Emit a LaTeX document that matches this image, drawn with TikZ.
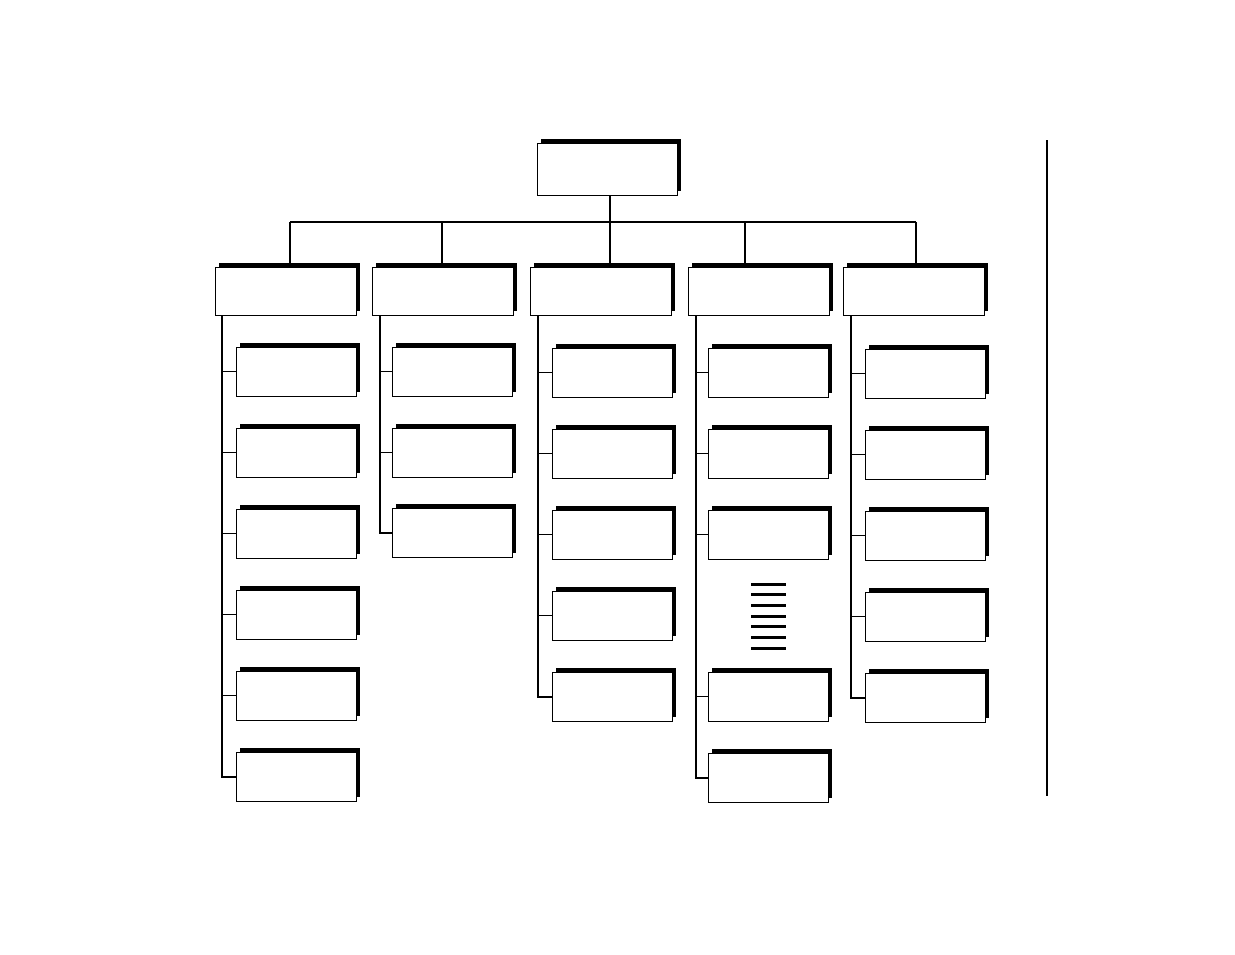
\documentclass[tikz,border=0pt]{standalone}
\usetikzlibrary{shadows}
\begin{document}
\begin{tikzpicture}[x=1pt,y=-1pt,
  box/.style={draw, line width=0.9pt, fill=white, inner sep=0pt, anchor=north west,
    drop shadow={shadow xshift=4pt, shadow yshift=4.5pt, opacity=1, fill=black}},
  topbox/.style={box, minimum width=140pt, minimum height=52pt},
  headbox/.style={box, minimum width=141pt, minimum height=48pt},
  childbox/.style={box, minimum width=120pt, minimum height=49pt},
  bus/.style={line width=2pt},
  feed/.style={line width=1.3pt},
  twig/.style={line width=1pt},
  tick/.style={line width=3pt}]
\useasboundingbox (0,0) rectangle (1235,954);

% top
\node[topbox] (top) at (537,143) {};
% heads
\node[headbox] (a) at (215,267) {};
\node[headbox] (b) at (372,267) {};
\node[headbox] (c) at (530,267) {};
\node[headbox] (d) at (688,267) {};
\node[headbox] (e) at (843,267) {};

% children
\foreach \i/\t in {1/347,2/428,3/509,4/590,5/671,6/752}
  \node[childbox] (a\i) at (236,\t) {};
\foreach \i/\t in {1/347,2/428,3/508}
  \node[childbox] (b\i) at (392,\t) {};
\foreach \i/\t in {1/348,2/429,3/510,4/591,5/672}
  \node[childbox] (c\i) at (552,\t) {};
\foreach \i/\t in {1/348,2/429,3/510,4/672,5/753}
  \node[childbox] (d\i) at (708,\t) {};
\foreach \i/\t in {1/349,2/430,3/511,4/592,5/673}
  \node[childbox] (e\i) at (865,\t) {};

% bus and drops
\coordinate (dT) at (610,222);
\coordinate (dA) at (290,222);
\coordinate (dB) at (442,222);
\coordinate (dC) at (610,222);
\coordinate (dD) at (745,222);
\coordinate (dE) at (916,222);
\draw[feed] (dT) -- (dT |- top.south);
\draw[bus] (dA) -- (dE);
\foreach \n/\dd in {a/dA,b/dB,c/dC,d/dD,e/dE}
  \draw[bus] (\dd) -- (\dd |- \n.north);

% column spines
\coordinate (vA) at (222,0);
\coordinate (vB) at (380,0);
\coordinate (vC) at (538,0);
\coordinate (vD) at (696,0);
\coordinate (vE) at (851,0);
\draw[bus] (vA |- a.south) |- (a6.west);
\draw[bus] (vB |- b.south) |- (b3.west);
\draw[bus] (vC |- c.south) |- (c5.west);
\draw[bus] (vD |- d.south) |- (d5.west);
\draw[bus] (vE |- e.south) |- (e5.west);
\foreach \i in {1,...,5} \draw[twig] (vA |- a\i.west) -- (a\i.west);
\foreach \i in {1,2} \draw[twig] (vB |- b\i.west) -- (b\i.west);
\foreach \i in {1,...,4} \draw[twig] (vC |- c\i.west) -- (c\i.west);
\foreach \i in {1,...,4} \draw[twig] (vD |- d\i.west) -- (d\i.west);
\foreach \i in {1,...,4} \draw[twig] (vE |- e\i.west) -- (e\i.west);

% ellipsis bars
\foreach \k in {0,...,6}
  \draw[tick] (751,584.3+10.67*\k) -- (786,584.3+10.67*\k);

% right rule
\draw[feed] (1047,140) -- (1047,796);
\end{tikzpicture}
\end{document}
